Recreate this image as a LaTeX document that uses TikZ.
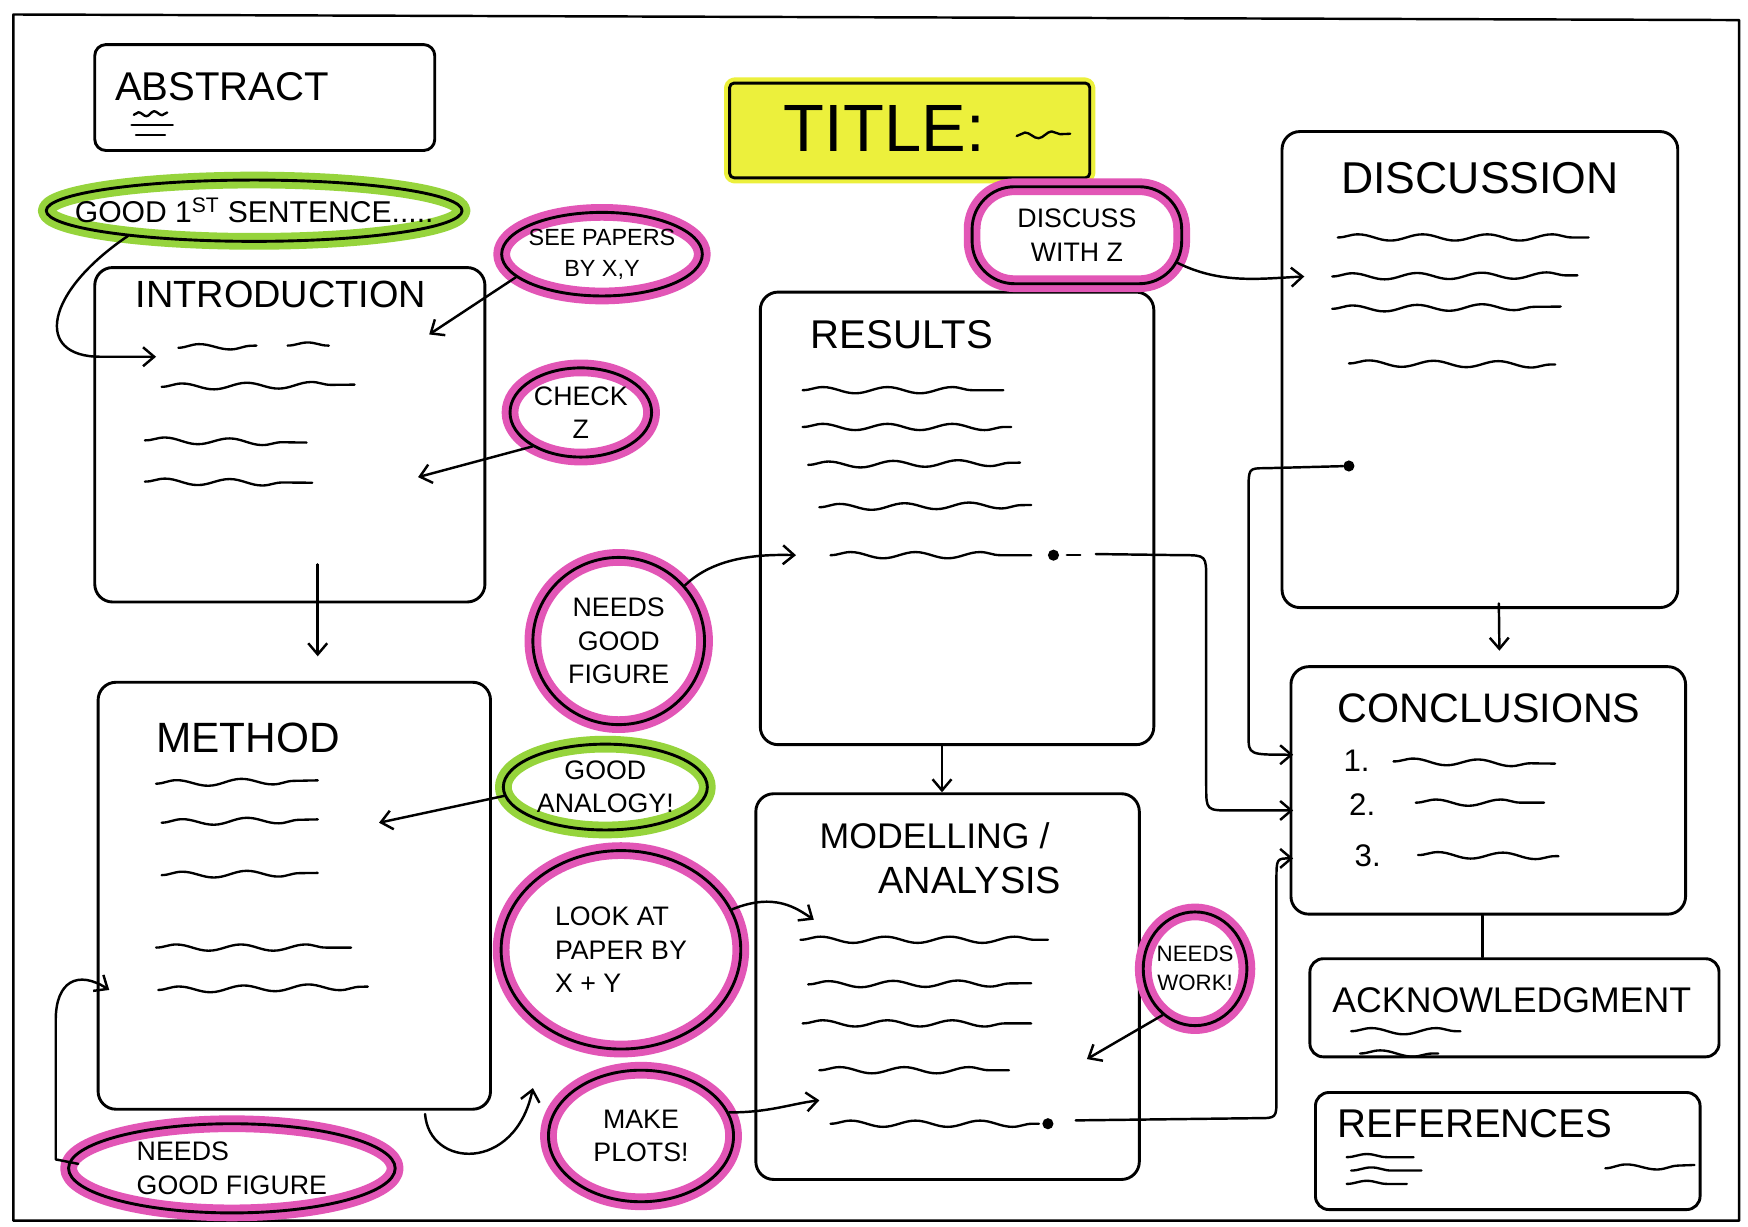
\documentclass[tikz,border=0pt]{standalone}
\usepackage{fontspec}
\setmainfont{Liberation Sans}
\usetikzlibrary{shapes.geometric, arrows.meta, decorations.pathmorphing, calc}
\definecolor{pinkhl}{RGB}{226,86,182}
\definecolor{greenhl}{RGB}{150,212,60}
\definecolor{yellowhl}{RGB}{236,240,60}
\begin{document}
\begin{tikzpicture}[x=1pt,y=-1pt, line join=round, line cap=round,
 box/.style={draw, line width=2.6pt, rounded corners=16pt, inner sep=0pt},
 bub/.style={ellipse, draw, line width=2.6pt, inner sep=0pt, preaction={draw=#1, line width=15pt}},
 bt/.style={font=\fontsize{24}{30}\selectfont, align=center, inner sep=0pt},
 hd/.style={anchor=west, inner sep=0pt, font=\fontsize{#1}{#1}\selectfont},
 scrib/.style={line width=2.1pt, decorate, decoration={snake, segment length=58pt, amplitude=2.8pt}},
 arr/.style={line width=2.2pt, -{Straight Barb[length=10pt,width=17pt,line width=2.2pt]}},
 conn/.style={line width=2.2pt},
 dotm/.style={circle, fill, inner sep=0pt, minimum size=10pt}
]
\useasboundingbox (0,0) rectangle (1568,1100);
\fill[white] (0,0) rectangle (1568,1100);
\draw[line width=2.2pt] (12,13) -- (1560,18) -- (1560,1095) -- (12,1095) -- cycle;

% boxes
\node[box, rounded corners=10pt, minimum width=305, minimum height=95] (abs) at (237.5,87.5) {};
\node[box, rounded corners=4pt, fill=yellowhl, preaction={draw=yellowhl, line width=10pt}, minimum width=323, minimum height=85] (title) at (816,117) {};
\node[box, minimum width=350, minimum height=300] (intro) at (260,390) {};
\node[box, minimum width=352, minimum height=383] (method) at (264,803.5) {};
\node[box, minimum width=353, minimum height=406] (res) at (858.5,465) {};
\node[box, minimum width=344, minimum height=346] (mod) at (850,885) {};
\node[box, minimum width=355, minimum height=427] (disc) at (1327.5,331.5) {};
\node[box, minimum width=354, minimum height=222] (concl) at (1335,709) {};
\node[box, rounded corners=12pt, minimum width=367, minimum height=88] (ack) at (1358.5,904) {};
\node[box, rounded corners=12pt, minimum width=345, minimum height=105] (refs) at (1352.5,1032.5) {};

% headings
\node[hd=36] (absT) at (103,78) {ABSTRACT};
\node[hd=60] (titleT) at (703,115) {TITLE:};
\node[hd=34, anchor=center] (introT) at (252,264) {INTRODUCTION};
\node[hd=36] (resT) at (727,300) {RESULTS};
\node[hd=38] (methT) at (140,662) {METHOD};
\node[hd=32] (modT1) at (735,750) {MODELLING /};
\node[hd=34] (modT2) at (788,790) {ANALYSIS};
\node[hd=40] (discT) at (1203,160) {DISCUSSION};
\node[hd=37] (conclT) at (1200,635) {CONCLUSIONS};
\node[hd=28] (n1) at (1205,682) {1.};
\node[hd=28] (n2) at (1210,722) {2.};
\node[hd=28] (n3) at (1215,768) {3.};
\node[hd=32] (ackT) at (1195,897) {ACKNOWLEDGMENT};
\node[hd=36] (refT) at (1200,1008) {REFERENCES};

% bubbles
\node[bub=greenhl, minimum width=373, minimum height=55, label={[bt, font=\fontsize{27}{30}\selectfont]center:{GOOD 1\textsuperscript{ST} SENTENCE.....}}] (first) at (228,189) {};
\node[bub=pinkhl, minimum width=180, minimum height=75, label={[bt, font=\fontsize{21}{28}\selectfont]center:{SEE PAPERS\\BY X,Y}}] (seep) at (540,228) {};
\node[bub=pinkhl, minimum width=127, minimum height=80, label={[bt]center:{CHECK\\Z}}] (check) at (521,370) {};
\node[bub=pinkhl, rectangle, rounded corners=38pt, minimum width=188, minimum height=87, label={[bt]center:{DISCUSS\\WITH Z}}] (discz) at (966,211) {};
\node[bub=pinkhl, minimum width=154, minimum height=150, label={[bt]center:{NEEDS\\GOOD\\FIGURE}}] (nfig1) at (555,575) {};
\node[bub=greenhl, minimum width=183, minimum height=77, label={[bt]center:{GOOD\\ANALOGY!}}] (analogy) at (543,706) {};
\node[bub=pinkhl, minimum width=215, minimum height=178, label={[bt, align=left]center:{LOOK AT\\PAPER BY\\X + Y}}] (look) at (557,852) {};
\node[bub=pinkhl, minimum width=166, minimum height=118, label={[bt]center:{MAKE\\PLOTS!}}] (plots) at (575,1019) {};
\node[bub=pinkhl, minimum width=293, minimum height=80, label={[bt, align=left]center:{NEEDS\\GOOD FIGURE}}] (nfig2) at (208,1048) {};
\node[bub=pinkhl, minimum width=93, minimum height=102, label={[bt, font=\fontsize{20}{26}\selectfont]center:{NEEDS\\WORK!}}] (nwork) at (1072,869) {};

% dots
\node[dotm] (rd) at (945,498) {};
\node[dotm] (md) at (940,1008) {};
\node[dotm] (dd) at (1210,418) {};

% target coordinates
\coordinate (i1) at (140,320);
\coordinate (i2) at (385,300);
\coordinate (i3) at (375,428);
\coordinate (r1) at (714,498);
\coordinate (m1) at (340,738);
\coordinate (m2) at (98,888);
\coordinate (md1) at (730,825);
\coordinate (md2) at (735,987);
\coordinate (md3) at (975,950);
\coordinate (p1) at (478,976);
\coordinate (d1) at (1170,248);
\coordinate (c1) at (1160,677);
\coordinate (c2) at (1160,727);
\coordinate (c3) at (1160,770);

% scribbled text lines
\draw[scrib, decoration={segment length=14pt, amplitude=2pt}] (120,103) -- (150,101);
\draw[line width=2pt] (118,112) -- (155,112);
\draw[line width=2pt] (122,121) -- (148,121);
\draw[scrib, decoration={segment length=24pt}] (912,122) -- (960,120);
\foreach \a/\b/\c/\d in {160/312/230/310, 258/310/295/310, 145/347/318/345, 130/395/275/397, 130/432/280/433,
  720/350/900/350, 720/383/907/383, 725/417/915/415, 735/455/925/453, 745/498/925/498,
  140/703/285/700, 145/738/285/735, 145/785/285/783, 140/850/315/850, 142/888/330/885,
  718/843/940/843, 725/883/925/882, 720/918/925/918, 735/960/905/960, 745/1008/932/1008,
  1200/213/1425/213, 1195/248/1415/247, 1195/277/1400/275, 1210/326/1395/327,
  1250/683/1395/685, 1270/720/1385/720, 1272/767/1398/768,
  1212/925/1310/925, 1220/945/1290/945,
  1208/1038/1268/1038, 1212/1050/1275/1050, 1208/1062/1262/1062, 1440/1048/1520/1045}
  \draw[scrib] (\a,\b) -- (\c,\d);

% connectors
\draw[arr] ($(first.south west)+(20,2)$) .. controls (40,262) and (30,320) .. (90,320) -- (i1);
\draw[arr] (seep.195) -- (i2);
\draw[arr] (check.215) -- (i3);
\draw[arr] ($(intro.south)+(25,-35)$) -- ($(method.north)+(21,-22)$);
\draw[arr] (nfig1.40) .. controls (640,500) and (680,497) .. (r1);
\draw[arr] (analogy.185) -- (m1);
\draw[arr] (look.20) .. controls (695,800) and (715,815) .. (md1);
\draw[arr] (plots.15) .. controls (690,998) and (710,990) .. (md2);
\draw[arr] ($(nfig2.west)+(10,-4)$) -- (50,1040) -- (50,915) .. controls (50,880) and (70,870) .. (m2);
\draw[arr] ($(method.south east)+(-60,3)$) .. controls (385,1048) and (462,1052) .. (p1);
\draw[arr] ($(discz.south east)+(-5,-20)$) .. controls (1095,255) and (1130,250) .. (d1);
\draw[arr] (nwork.235) -- (md3);
\draw[arr] ($(res.south)+(-13.5,0)$) -- ($(mod.north)+(-5,0)$);
\draw[arr] ($(disc.south)+(17,-5)$) -- ($(concl.north)+(10,-13)$);
\draw[conn] ($(concl.south)+(-5,0)$) -- ($(ack.north)+(-28.5,0)$);

\draw[conn] ($(rd)+(12,0)$) -- ($(rd)+(24,0)$);
\draw[arr] ($(rd)+(38,-1)$) -- (1060,498) .. controls (1082,498) .. (1082,520) -- (1082,705) .. controls (1082,727) .. (1105,727) -- (c2);
\draw[arr] ($(md)+(25,-3)$) -- (1128,1003) .. controls (1145,1003) .. (1145,985) -- (1145,790) .. controls (1145,770) .. (c3);
\draw[arr] (dd) -- (1135,420) .. controls (1120,420) .. (1120,440) -- (1120,660) .. controls (1120,677) .. (c1);
\end{tikzpicture}
\end{document}
